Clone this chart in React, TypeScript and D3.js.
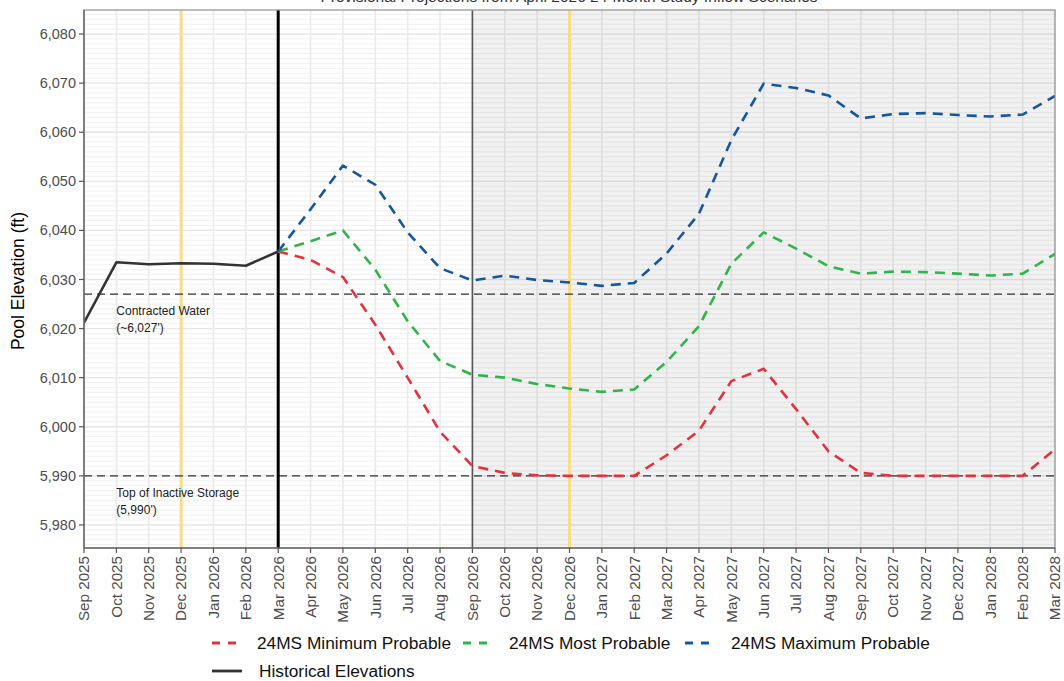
import React from "react";
import * as d3 from "d3";

const months = [
  "Sep 2025", "Oct 2025", "Nov 2025", "Dec 2025", "Jan 2026", "Feb 2026", "Mar 2026",
  "Apr 2026", "May 2026", "Jun 2026", "Jul 2026", "Aug 2026", "Sep 2026", "Oct 2026",
  "Nov 2026", "Dec 2026", "Jan 2027", "Feb 2027", "Mar 2027", "Apr 2027", "May 2027",
  "Jun 2027", "Jul 2027", "Aug 2027", "Sep 2027", "Oct 2027", "Nov 2027", "Dec 2027",
  "Jan 2028", "Feb 2028", "Mar 2028",
];

const historicalMonths = ["Sep 2025", "Oct 2025", "Nov 2025", "Dec 2025", "Jan 2026", "Feb 2026", "Mar 2026"];
const historical = [6021.2, 6033.5, 6033.1, 6033.3, 6033.2, 6032.8, 6035.7];

const projMonths = months.slice(6);
const minProbable = [6035.7, 6034.0, 6030.5, 6020.8, 6010.0, 5999.0, 5992.0, 5990.6, 5990.1, 5990.0, 5990.0, 5990.0, 5994.2, 5999.2, 6009.3, 6011.8, 6003.6, 5995.0, 5990.6, 5990.0, 5990.0, 5990.0, 5990.0, 5990.0, 5995.4];
const mostProbable = [6035.7, 6037.8, 6040.0, 6032.0, 6021.5, 6013.4, 6010.6, 6010.0, 6008.7, 6007.8, 6007.1, 6007.6, 6013.2, 6020.5, 6033.2, 6039.6, 6036.3, 6032.7, 6031.2, 6031.6, 6031.5, 6031.2, 6030.8, 6031.2, 6035.2];
const maxProbable = [6035.7, 6044.3, 6053.2, 6049.3, 6039.6, 6032.3, 6029.8, 6030.8, 6029.9, 6029.4, 6028.7, 6029.3, 6035.3, 6043.4, 6058.4, 6069.9, 6069.0, 6067.5, 6062.8, 6063.7, 6063.9, 6063.5, 6063.2, 6063.6, 6067.4];

const yTicks = [5980, 5990, 6000, 6010, 6020, 6030, 6040, 6050, 6060, 6070, 6080];
const refLines = [
  { value: 6027, label1: "Contracted Water", label2: "(~6,027')" },
  { value: 5990, label1: "Top of Inactive Storage", label2: "(5,990')" },
];
const yellowMonths = ["Dec 2025", "Dec 2026"];
const nowMonth = "Mar 2026";
const shadeStart = "Sep 2026";

const series = [
  { name: "24MS Minimum Probable", color: "#e2323f", values: minProbable },
  { name: "24MS Most Probable", color: "#31b44b", values: mostProbable },
  { name: "24MS Maximum Probable", color: "#16569b", values: maxProbable },
];

const FONT = "'Liberation Sans', Arial, Helvetica, sans-serif";

export default function App() {
  const W = 1064, H = 681;
  const left = 84, right = 1055, top = 10, bottom = 548;
  const x = d3.scalePoint<string>().domain(months).range([left, right]).padding(0);
  const y = d3.scaleLinear().domain([5975.3, 6084.9]).range([bottom, top]);

  const minorTicks = d3.range(5976, 6085, 1);

  const lineGen = d3
    .line<[string, number]>()
    .x((d) => x(d[0]) as number)
    .y((d) => y(d[1]));

  const histPath = lineGen(historicalMonths.map((m, i) => [m, historical[i]]));

  return (
    <svg width={W} height={H} style={{ position: "absolute", left: 0, top: 0, background: "#fff" }} fontFamily={FONT}>
      <defs>
        <clipPath id="panel">
          <rect x={left} y={top} width={right - left} height={bottom - top} />
        </clipPath>
      </defs>
      <text x={569} y={2} textAnchor="middle" fontSize={15.5} fill="#333">
        Provisional Projections from April 2026 24-Month Study Inflow Scenarios
      </text>

      {/* grid */}
      <g>
        {minorTicks.map((v) => (
          <line key={"m" + v} x1={left} x2={right} y1={y(v)} y2={y(v)} stroke="#efefef" strokeWidth={0.9} />
        ))}
        {yTicks.map((v) => (
          <line key={"M" + v} x1={left} x2={right} y1={y(v)} y2={y(v)} stroke="#e6e6e6" strokeWidth={1.3} />
        ))}
        {months.map((m) => (
          <line key={"v" + m} x1={x(m)} x2={x(m)} y1={top} y2={bottom} stroke="#ebebeb" strokeWidth={1.6} />
        ))}
      </g>

      {/* shaded region */}
      <rect x={x(shadeStart)} y={top} width={right - (x(shadeStart) as number)} height={bottom - top} fill="#000" fillOpacity={0.055} />

      {/* yellow lines */}
      {yellowMonths.map((m) => (
        <line key={"y" + m} x1={x(m)} x2={x(m)} y1={top} y2={bottom} stroke="#fbdc86" strokeWidth={3} />
      ))}

      {/* reference horizontal lines */}
      {refLines.map((r) => (
        <g key={"r" + r.value}>
          <line x1={left} x2={right} y1={y(r.value)} y2={y(r.value)} stroke="#333" strokeWidth={1.3} strokeDasharray="8,5" />
          <text x={x("Oct 2025")} y={y(r.value) + 21} fontSize={12} fill="#222">{r.label1}</text>
          <text x={x("Oct 2025")} y={y(r.value) + 38} fontSize={12} fill="#222">{r.label2}</text>
        </g>
      ))}

      {/* vertical markers */}
      <line x1={x(shadeStart)} x2={x(shadeStart)} y1={top} y2={bottom} stroke="#555" strokeWidth={1.6} />
      <line x1={x(nowMonth)} x2={x(nowMonth)} y1={top} y2={bottom} stroke="#000" strokeWidth={3} />

      {/* data */}
      <g clipPath="url(#panel)">
        <path d={histPath || ""} fill="none" stroke="#333" strokeWidth={2.6} strokeLinejoin="round" />
        {series.map((s) => (
          <path
            key={s.name}
            d={lineGen(projMonths.map((m, i) => [m, s.values[i]])) || ""}
            fill="none"
            stroke={s.color}
            strokeWidth={2.6}
            strokeDasharray="10,7"
            strokeLinejoin="round"
          />
        ))}
      </g>

      {/* panel border */}
      <rect x={left} y={top} width={right - left} height={bottom - top} fill="none" stroke="#8f8f8f" strokeWidth={1.2} />
      <line x1={left} x2={right} y1={bottom} y2={bottom} stroke="#444" strokeWidth={1.2} />
      <line x1={left} x2={left} y1={top} y2={bottom} stroke="#666" strokeWidth={1.4} />

      {/* y axis */}
      {yTicks.map((v) => (
        <g key={"yt" + v}>
          <line x1={left - 5} x2={left} y1={y(v)} y2={y(v)} stroke="#555" strokeWidth={1.2} />
          <text x={left - 8} y={y(v)} dy="0.35em" textAnchor="end" fontSize={14.5} fill="#4d4d4d">
            {d3.format(",")(v)}
          </text>
        </g>
      ))}
      <text transform={`translate(24, 281) rotate(-90)`} textAnchor="middle" fontSize={17.5} fill="#000">
        Pool Elevation (ft)
      </text>

      {/* x axis */}
      {months.map((m) => (
        <g key={"xt" + m}>
          <line x1={x(m)} x2={x(m)} y1={bottom} y2={bottom + 5} stroke="#555" strokeWidth={1.2} />
          <text
            transform={`translate(${x(m)}, ${bottom + 8}) rotate(-90)`}
            textAnchor="end"
            dy="0.35em"
            fontSize={15.2}
            fill="#4d4d4d"
          >
            {m}
          </text>
        </g>
      ))}

      {/* legend */}
      {(() => {
        const items = [
          { name: series[0].name, color: series[0].color, kx: 212, tx: 257, ky: 643, dashed: true },
          { name: series[1].name, color: series[1].color, kx: 463, tx: 509, ky: 643, dashed: true },
          { name: series[2].name, color: series[2].color, kx: 685, tx: 731, ky: 643, dashed: true },
          { name: "Historical Elevations", color: "#333", kx: 212, tx: 259, ky: 671, dashed: false },
        ];
        return items.map((it) => (
          <g key={"lg" + it.name}>
            <line
              x1={it.kx}
              x2={it.kx + 30}
              y1={it.ky}
              y2={it.ky}
              stroke={it.color}
              strokeWidth={2.8}
              strokeDasharray={it.dashed ? "8,8" : undefined}
            />
            <text x={it.tx} y={it.ky} dy="0.35em" fontSize={17.3} fill="#111">
              {it.name}
            </text>
          </g>
        ));
      })()}
    </svg>
  );
}
